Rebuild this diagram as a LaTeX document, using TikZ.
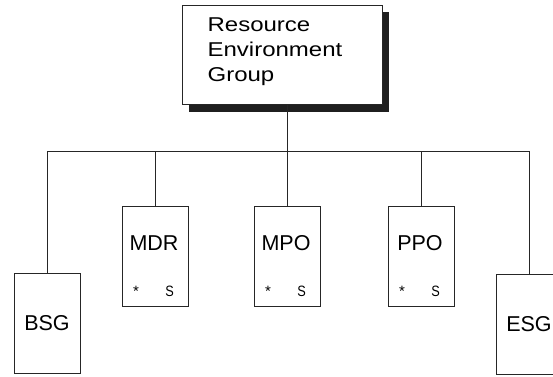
\documentclass[tikz,border=0pt]{standalone}
\usepackage{fontspec}
\setmainfont{Liberation Sans}
\begin{document}
\begin{tikzpicture}[x=1pt,y=-1pt,
  line/.style={draw=black!85, line width=0.8pt},
  unit/.style={line, fill=white, minimum width=66pt, minimum height=100pt, inner sep=0pt},
  big/.style={font=\fontsize{20}{25}\selectfont},
  lab/.style={font=\fontsize{21.5}{25}\selectfont, inner sep=0pt},
  small/.style={font=\fontsize{15}{17}\selectfont, inner sep=0pt, anchor=base}]
\useasboundingbox (0,0) rectangle (553,376);
\clip (0,0) rectangle (553,376);
% header box with shadow
\fill[black!88] (189,12) rectangle (389,112);
\node[line, fill=white, minimum width=200pt, minimum height=99pt, inner sep=0pt] (reg) at (282,54.5) {};
\node[anchor=north west, align=left, inner sep=0pt, big] (regt) at (207.4,17.3)
  {\scalebox{1.2}[1]{Resource}\\\scalebox{1.2}[1]{Environment}\\\scalebox{1.2}[1]{Group}};
% units
\node[unit] (BSG) at (47,323) {};
\node[unit] (MDR) at (155,256) {};
\node[unit] (MPO) at (287,256) {};
\node[unit] (PPO) at (421,256) {};
\node[unit] (ESG) at (529,324.5) {};
\node[lab] (BSGt) at (BSG.center) {BSG};
\node[lab] (ESGt) at (ESG.center) {ESG};
\foreach \n in {MDR,MPO,PPO}{
  \node[lab] (\n t) at ([xshift=-1pt,yshift=13pt]\n.center) {\n};
  \node[small] (\n a) at ([xshift=-19pt,yshift=-40pt]\n.center) {*};
  \node[small] (\n s) at ([xshift=14.6pt,yshift=-40pt]\n.center) {\scalebox{0.85}[1]{S}};
}
% connectors
\coordinate (bus) at (0,151);
\draw[line] (BSG.north) -- (BSG.north |- bus) -- (ESG.north |- bus) -- (ESG.north);
\draw[line] (MDR.north) -- (MDR.north |- bus);
\draw[line] (PPO.north) -- (PPO.north |- bus);
\draw[line] (MPO.north) -- (MPO.north |- reg.south);
\end{tikzpicture}
\end{document}
